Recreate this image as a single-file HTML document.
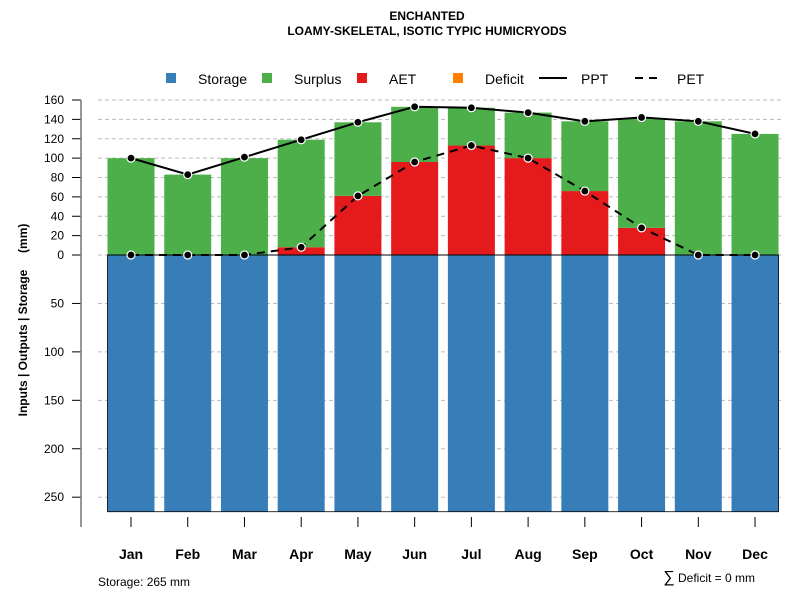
<!DOCTYPE html>
<html><head><meta charset="utf-8"><style>
body{margin:0;background:#fff}
svg{font-family:"Liberation Sans",sans-serif}
</style></head><body>
<svg id="c" width="800" height="600" xmlns="http://www.w3.org/2000/svg">
<text x="427" y="20" text-anchor="middle" font-size="12" font-weight="bold">ENCHANTED</text>
<text x="427" y="35" text-anchor="middle" font-size="12" font-weight="bold">LOAMY-SKELETAL, ISOTIC TYPIC HUMICRYODS</text>
<g font-size="14">
<rect x="166" y="73" width="10" height="10" fill="#377eb8"/><text x="198" y="84">Storage</text>
<rect x="262" y="73" width="10" height="10" fill="#4daf4a"/><text x="294" y="84">Surplus</text>
<rect x="357" y="73" width="10" height="10" fill="#e41a1c"/><text x="389" y="84">AET</text>
<rect x="453" y="73" width="10" height="10" fill="#ff7f00"/><text x="485" y="84">Deficit</text>
<line x1="539" y1="78" x2="567" y2="78" stroke="#000" stroke-width="2"/><text x="581" y="84">PPT</text>
<line x1="635" y1="78" x2="663" y2="78" stroke="#000" stroke-width="2" stroke-dasharray="8,6"/><text x="677" y="84">PET</text>
</g>
<text transform="translate(27,320) rotate(-90)" text-anchor="middle" font-size="12" font-weight="bold" style="white-space:pre">Inputs | Outputs | Storage     (mm)</text>
<g id="grid"></g><g id="bars"></g><g id="lines"></g><g id="axes"></g>
<text x="98" y="586" font-size="12">Storage: 265 mm</text>
<text x="755" y="582" text-anchor="end" font-size="12"><tspan font-size="16">∑</tspan> Deficit = 0 mm</text>
</svg>
<script>
const months=["Jan","Feb","Mar","Apr","May","Jun","Jul","Aug","Sep","Oct","Nov","Dec"];
const ppt=[100,83,101,119,137,153,152,147,138,142,138,125];
const pet=[0,0,0,8,61,96,113,100,66,28,0,0];
const aet=[0,0,0,8,61,96,113,100,66,28,0,0];
const surplus=[100,83,100,111,76,57,39,47,72,113,138,125];
const storage=[265,265,265,265,265,265,265,265,265,265,265,265];
const upTicks=[0,20,40,60,80,100,120,140,160];
const downTicks=[50,100,150,200,250];
const NS="http://www.w3.org/2000/svg";
const y0=255,k=155/160;
const yU=v=>y0-v*k, yD=v=>y0+v*k;
const xc=i=>131+i*56.73, bw=47;
function mk(p,t,a){const e=document.createElementNS(NS,t);for(const n in a)e.setAttribute(n,a[n]);document.getElementById(p).appendChild(e);return e;}
upTicks.forEach(v=>{
 let l=mk('grid','line',{x1:98,x2:782,y1:yU(v),y2:yU(v),stroke:'#bbb','stroke-dasharray':'4,3'});
 
 
 let t=mk('axes','line',{x1:72,x2:81,y1:yU(v),y2:yU(v),stroke:'#000'});
 
 
 let s=mk('axes','text',{x:64,y:yU(v)+4,'text-anchor':'end','font-size':12});s.textContent=v;
 
 
});
downTicks.forEach(v=>{
 let l=mk('grid','line',{x1:98,x2:782,y1:yD(v),y2:yD(v),stroke:'#bbb','stroke-dasharray':'4,3'});
 
 
 let t=mk('axes','line',{x1:72,x2:81,y1:yD(v),y2:yD(v),stroke:'#000'});
 
 
 let s=mk('axes','text',{x:64,y:yD(v)+4,'text-anchor':'end','font-size':12});s.textContent=v;
 
 
});
let ax=mk('axes','line',{x1:81,x2:81,y1:yU(160),y2:527,stroke:'#777','stroke-width':1.5});


months.forEach((m,i)=>{
 const x=xc(i);
 let s=mk('bars','rect',{x:x-bw/2,y:y0,width:bw,height:storage[i]*k,fill:'#377eb8'});
 
 
 let a=mk('bars','rect',{x:x-bw/2,y:yU(aet[i]),width:bw,height:aet[i]*k,fill:'#e41a1c'});
 
 
 let g=mk('bars','rect',{x:x-bw/2,y:yU(aet[i]+surplus[i]),width:bw,height:surplus[i]*k,fill:'#4daf4a'});
 
 
 let t=mk('axes','line',{x1:x,x2:x,y1:517,y2:527,stroke:'#000'});
 
 
 let l=mk('axes','text',{x:x,y:559,'text-anchor':'middle','font-size':14,'font-weight':'bold'});l.textContent=m;
 
 
});
let frame=mk('bars','rect',{x:xc(0)-bw/2,y:y0,width:xc(11)-xc(0)+bw,height:265*k,fill:'none',stroke:'#000','stroke-width':0.8});


let zl=mk('bars','line',{x1:xc(0)-bw/2,x2:xc(11)+bw/2,y1:y0,y2:y0,stroke:'#000'});


let pp=mk('lines','polyline',{points:ppt.map((v,i)=>xc(i)+','+yU(v)).join(' '),fill:'none',stroke:'#000','stroke-width':2});


let pe=mk('lines','polyline',{points:pet.map((v,i)=>xc(i)+','+yU(v)).join(' '),fill:'none',stroke:'#000','stroke-width':2,'stroke-dasharray':'8,6'});


[ppt,pet].forEach((arr,j)=>arr.forEach((v,i)=>{
 let c=mk('lines','circle',{cx:xc(i),cy:yU(v),r:4,fill:'#000',stroke:'#fff','stroke-width':1.2});
 
 
}));
</script>
</body></html>
